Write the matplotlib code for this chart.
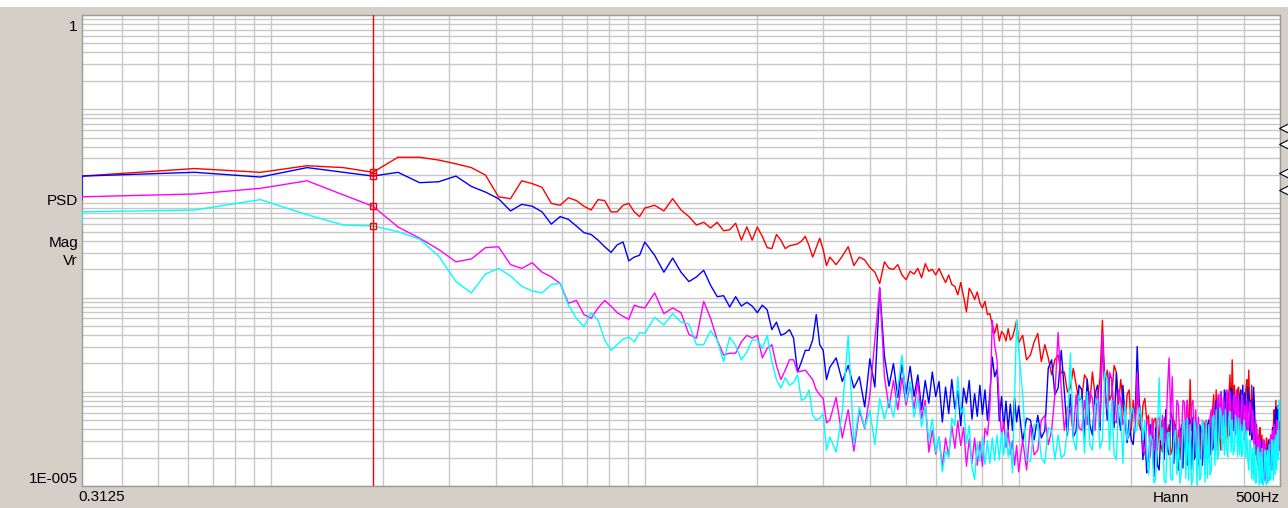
import numpy as np
import matplotlib
matplotlib.use("Agg")
import matplotlib.pyplot as plt
import matplotlib.transforms as mtransforms
from matplotlib.ticker import LogLocator, NullFormatter

plt.rcParams["font.family"] = ["Liberation Sans", "DejaVu Sans"]

# ── spectrum data ────────────────────────────────────────────────────────────
DF = 0.3125                       # frequency resolution, Hz
BINS = (list(range(1, 33)) + list(range(34, 101, 2))
        + list(range(104, 321, 4)) + list(range(328, 1601, 8)))
FREQ_HZ = DF * np.array(BINS)

# PSD levels in dB (10*log10), one value per entry of BINS
RED_DB = [
    -17.1, -16.3, -16.7, -16.0, -16.2, -16.7, -15.1, -15.1, -15.4, -15.8,
    -16.2, -17.0, -19.3, -19.5, -17.6, -17.9, -18.3, -20.0, -20.2, -19.4,
    -19.7, -20.3, -20.7, -19.6, -19.7, -20.9, -20.9, -20.2, -20.0, -20.9,
    -21.4, -20.5,
    -20.2, -20.8, -19.5, -20.7, -21.4, -22.3, -22.0, -22.6, -22.0, -22.9,
    -22.8, -22.1, -23.9, -22.5, -23.9, -22.5, -23.5, -24.7, -24.8, -23.3,
    -23.9, -24.8, -24.5, -24.4, -24.3, -24.0, -23.5, -24.5, -25.7, -24.7,
    -23.7, -24.9, -26.6, -25.7,
    -26.5, -25.6, -24.6, -26.6, -25.7, -26.0, -26.8, -27.3, -28.5, -26.2,
    -26.9, -27.0, -26.5, -27.6, -28.1, -27.2, -27.5, -26.9, -27.9, -26.4,
    -27.2, -27.0, -27.6, -26.9, -27.7, -28.4, -27.6, -28.6, -28.8, -29.7,
    -28.4, -29.9, -31.5, -29.0, -29.5, -30.2, -29.4, -30.6, -31.1, -30.4,
    -31.8, -31.7, -32.9, -33.8, -32.8, -34.6, -33.6, -33.9, -34.6, -33.3,
    -34.5, -34.2, -33.4, -32.4, -34.8,
    -34.0, -36.6, -36.1, -34.7, -33.8, -36.8, -35.0, -36.4, -38.2, -36.6,
    -36.1, -38.0, -37.9, -40.0, -39.6, -37.5, -39.3, -40.9, -40.7, -38.2,
    -38.7, -41.2, -37.9, -40.3, -40.9, -38.5, -32.4, -39.3, -37.7, -40.9,
    -40.3, -37.2, -37.9, -41.4, -38.7, -40.9, -43.5, -40.3, -39.8, -44.1,
    -40.9, -43.0, -40.0, -43.5, -44.1, -41.4, -40.7, -43.0, -42.5, -45.9,
    -45.1, -43.0, -42.8, -46.2, -43.5, -45.6, -46.4, -43.0, -42.5, -45.1,
    -43.5, -46.7, -46.0, -43.0, -43.8, -46.7, -44.1, -47.2, -43.5, -46.2,
    -45.6, -43.0, -40.9, -45.1, -38.7, -44.1, -43.0, -46.4, -47.0, -43.8,
    -43.5, -46.7, -44.1, -47.2, -46.2, -43.2, -43.8, -46.9, -43.0, -45.6,
    -45.1, -41.9, -40.3, -45.1, -39.8, -46.2, -41.9, -45.1, -46.2, -42.5,
    -41.9, -45.6, -41.4, -45.1, -44.1, -40.3, -38.2, -43.0, -36.6, -41.4,
    -39.3, -42.5, -43.0, -39.8, -39.5, -42.8, -40.0, -43.5, -40.3, -43.0,
    -42.5, -39.8, -38.7, -42.1, -37.7, -41.7, -43.0, -39.3, -41.9, -45.1,
    -43.0, -46.7, -43.5, -47.2, -47.8, -44.1, -43.8, -47.2, -44.6, -48.3,
    -45.1, -48.1, -48.5, -44.9, -45.6, -48.3, -45.1, -48.8, -44.6, -47.8,
    -47.2, -43.5, -41.9, -45.6, -40.9, -44.6, -45.1, -41.4, -42.5, -45.6,
]

BLUE_DB = [
    -17.1, -16.7, -17.2, -16.2, -16.7, -17.1, -16.7, -17.8, -17.7, -17.1,
    -18.2, -18.8, -19.5, -20.8, -20.1, -20.3, -20.9, -22.2, -21.4, -21.7,
    -22.4, -23.1, -23.3, -23.9, -24.6, -25.2, -24.4, -24.1, -26.1, -25.7,
    -25.5, -24.1,
    -25.5, -27.3, -25.8, -27.3, -28.3, -27.8, -27.1, -28.7, -29.9, -29.8,
    -31.0, -29.9, -30.9, -30.5, -30.9, -31.6, -30.8, -31.3, -33.4, -32.6,
    -34.0, -33.8, -33.4, -34.3, -37.9, -36.8, -35.6, -35.6, -34.5, -31.8,
    -35.0, -35.6, -38.7, -37.4,
    -36.4, -38.9, -37.2, -39.6, -38.4, -41.6, -36.5, -39.5, -29.0, -36.2,
    -39.4, -37.0, -40.6, -37.1, -40.2, -37.3, -40.5, -38.2, -41.9, -38.8,
    -41.2, -37.9, -40.5, -38.9, -43.2, -39.5, -42.3, -38.7, -41.8, -39.9,
    -43.6, -39.6, -41.2, -38.8, -42.9, -40.2, -42.6, -39.3, -42.4, -39.8,
    -43.0, -40.3, -36.3, -38.4, -37.6, -43.1, -40.5, -43.9, -41.0, -44.0,
    -41.3, -44.1, -40.6, -43.2, -41.5,
    -45.3, -42.8, -43.0, -45.1, -42.5, -44.9, -44.1, -37.5, -36.6, -40.3,
    -39.6, -35.6, -40.0, -44.6, -40.3, -44.8, -44.1, -39.3, -39.8, -44.8,
    -38.7, -43.5, -44.6, -40.3, -39.3, -44.1, -34.8, -39.1, -43.0, -38.2,
    -38.7, -43.8, -38.0, -42.5, -44.1, -39.3, -42.7, -45.4, -43.0, -45.1,
    -45.6, -42.5, -35.2, -40.9, -43.3, -47.2, -44.1, -48.6, -48.3, -43.5,
    -44.1, -49.0, -43.8, -47.8, -48.3, -44.3, -43.0, -47.2, -41.9, -46.2,
    -46.7, -42.1, -42.8, -47.6, -43.5, -47.8, -48.3, -44.1, -43.8, -48.1,
    -43.5, -47.5, -47.8, -42.8, -43.0, -48.3, -42.7, -47.2, -43.2, -48.1,
    -47.5, -43.5, -44.1, -47.8, -43.8, -47.2, -47.0, -43.5, -43.0, -46.7,
    -42.5, -46.2, -45.6, -41.9, -40.9, -45.1, -40.3, -44.6, -40.0, -44.1,
    -44.3, -39.8, -40.3, -43.8, -40.1, -44.6, -43.5, -39.6, -39.8, -44.1,
    -40.3, -44.4, -40.0, -43.8, -44.6, -40.6, -39.8, -44.1, -39.3, -43.5,
    -40.1, -44.3, -43.8, -39.5, -40.3, -44.6, -40.9, -45.1, -44.1, -39.5,
    -41.9, -45.6, -43.5, -47.2, -44.8, -48.3, -48.8, -45.1, -45.6, -49.4,
    -45.3, -49.2, -46.0, -49.7, -49.4, -45.6, -45.1, -49.2, -44.6, -48.3,
    -43.8, -47.8, -46.2, -42.5, -41.6, -45.1, -41.9, -45.6, -42.1, -45.1,
]

MAGENTA_DB = [
    -19.3, -19.0, -18.4, -17.6, -19.1, -20.3, -22.5, -23.7, -24.9, -26.2,
    -25.9, -24.7, -24.6, -26.5, -26.9, -26.3, -27.3, -27.8, -28.5, -30.6,
    -30.3, -31.8, -32.2, -31.1, -30.3, -30.9, -31.6, -32.0, -32.3, -30.8,
    -31.0, -31.1,
    -29.5, -31.7, -31.1, -31.6, -33.9, -34.3, -30.4, -32.2, -34.5, -36.1,
    -35.9, -35.9, -34.7, -34.0, -34.3, -34.0, -36.4, -35.4, -35.0, -37.2,
    -38.7, -37.7, -36.6, -36.6, -37.9, -37.8, -37.7, -38.2, -38.7, -39.8,
    -40.3, -40.7, -43.3, -43.0,
    -40.6, -44.9, -41.9, -46.3, -42.0, -43.9, -40.3, -34.5, -28.9, -38.4,
    -41.7, -38.8, -41.9, -38.5, -41.4, -39.2, -41.8, -38.9, -42.8, -40.9,
    -46.4, -44.1, -46.6, -44.8, -48.0, -44.9, -46.8, -43.6, -46.0, -43.1,
    -45.7, -43.8, -47.9, -45.0, -47.6, -44.9, -47.8, -45.3, -47.9, -43.9,
    -44.6, -41.8, -32.4, -35.0, -36.6, -41.4, -44.6, -43.2, -45.9, -44.1,
    -46.7, -45.2, -47.8, -45.7, -48.5,
    -45.1, -48.3, -43.5, -46.7, -46.2, -43.0, -42.5, -45.6, -44.1, -40.3,
    -33.7, -39.8, -44.1, -41.6, -41.9, -44.3, -40.3, -43.8, -44.1, -40.9,
    -43.5, -40.0, -40.7, -44.1, -39.8, -43.2, -33.8, -39.8, -41.9, -37.9,
    -38.7, -43.0, -43.3, -39.8, -40.9, -43.5, -42.7, -45.1, -44.6, -42.5,
    -41.9, -44.1, -38.0, -42.5, -42.7, -46.2, -46.7, -43.0, -43.5, -46.9,
    -42.8, -46.2, -45.9, -43.0, -42.7, -45.1, -42.5, -45.4, -44.6, -39.8,
    -36.4, -43.0, -38.4, -45.1, -45.4, -40.9, -41.4, -45.9, -45.1, -40.9,
    -41.1, -45.6, -40.9, -45.1, -45.9, -41.4, -40.9, -45.4, -41.9, -46.2,
    -42.7, -46.7, -47.2, -43.0, -43.5, -47.6, -43.0, -47.0, -46.7, -42.7,
    -41.9, -45.6, -41.4, -45.1, -44.9, -40.9, -40.3, -44.6, -40.0, -44.1,
    -40.7, -45.1, -44.3, -39.8, -40.3, -44.8, -40.0, -44.1, -45.4, -40.7,
    -40.3, -44.6, -39.8, -44.1, -40.9, -45.1, -44.8, -40.3, -40.9, -45.1,
    -41.4, -44.6, -40.9, -44.1, -43.8, -41.1, -41.4, -44.3, -41.9, -45.1,
    -46.2, -43.0, -44.1, -47.5, -44.6, -48.3, -45.1, -49.2, -49.7, -45.6,
    -45.1, -49.4, -45.6, -49.2, -46.2, -49.4, -48.8, -45.1, -44.6, -48.3,
    -44.1, -47.8, -43.5, -46.7, -46.2, -43.0, -43.5, -46.7, -44.1, -46.2,
]

CYAN_DB = [
    -20.9, -20.7, -19.6, -21.2, -22.3, -22.4, -23.0, -23.8, -25.6, -28.3,
    -29.5, -27.5, -26.9, -27.7, -28.8, -29.3, -29.5, -28.6, -28.5, -30.8,
    -32.2, -33.1, -31.6, -32.4, -34.5, -35.6, -35.0, -34.4, -34.2, -34.7,
    -33.7, -33.8,
    -32.1, -32.9, -31.7, -32.6, -32.8, -35.0, -35.0, -33.5, -34.5, -36.8,
    -34.2, -35.1, -36.6, -35.8, -34.5, -34.5, -35.4, -34.0, -36.8, -38.7,
    -39.6, -38.5, -39.3, -39.0, -38.2, -40.9, -40.7, -39.8, -42.5, -43.0,
    -42.8, -42.3, -46.2, -44.8,
    -46.4, -42.1, -34.0, -45.6, -41.6, -43.8, -42.0, -45.6, -40.7, -42.9,
    -40.8, -42.7, -39.6, -36.1, -41.0, -38.9, -42.7, -40.6, -43.7, -41.5,
    -45.1, -42.9, -46.4, -44.8, -48.5, -46.3, -47.0, -42.8, -43.6, -38.4,
    -42.2, -41.7, -45.5, -43.6, -48.0, -49.3, -45.4, -47.4, -44.8, -47.7,
    -45.2, -47.6, -44.9, -47.3, -44.6, -47.2, -44.3, -46.7, -44.0, -46.9,
    -45.4, -48.6, -40.9, -32.4, -35.6,
    -40.3, -47.2, -47.4, -43.5, -43.3, -47.0, -47.6, -43.8, -44.1, -47.2,
    -44.6, -47.0, -46.7, -44.1, -35.9, -45.1, -46.2, -40.3, -40.9, -46.5,
    -40.0, -45.6, -46.2, -41.4, -40.7, -46.0, -45.1, -37.9, -38.7, -46.2,
    -40.9, -46.7, -47.2, -41.4, -41.9, -47.6, -41.4, -45.1, -44.1, -41.6,
    -41.9, -44.3, -43.8, -41.7, -42.5, -45.1, -43.0, -46.2, -48.8, -44.6,
    -45.1, -49.7, -49.2, -44.9, -38.5, -45.1, -43.8, -49.4, -49.7, -44.4,
    -44.3, -49.2, -49.4, -45.1, -44.1, -48.8, -44.9, -49.7, -48.3, -43.5,
    -43.0, -49.2, -42.8, -49.4, -43.5, -49.9, -49.2, -43.0, -44.1, -49.9,
    -43.5, -49.4, -48.8, -43.0, -43.8, -49.6, -43.2, -49.2, -43.5, -48.8,
    -48.3, -42.8, -42.5, -47.8, -41.9, -47.2, -46.7, -41.7, -42.1, -46.2,
    -42.5, -46.7, -41.9, -46.2, -46.9, -42.8, -42.1, -46.4, -43.0, -46.7,
    -46.2, -42.5, -43.2, -46.9, -42.8, -46.7, -43.5, -46.9, -46.4, -43.0,
    -43.8, -47.0, -44.1, -47.2, -48.3, -45.1, -45.6, -49.2, -46.0, -49.4,
    -45.6, -49.7, -49.6, -46.2, -45.9, -49.9, -46.4, -49.7, -46.0, -49.9,
    -49.7, -46.2, -46.7, -49.9, -46.2, -49.6, -45.6, -49.4, -49.2, -45.1,
    -45.6, -49.4, -45.1, -48.8, -44.6, -48.3, -44.1, -47.2, -40.9, -43.0,
]

# DC bin of each trace (drawn at the left edge, like the analyser does)
DC_DB = [-17.3, -19.6, -19.6, -22.2]
TRACES = [RED_DB, BLUE_DB, MAGENTA_DB, CYAN_DB]
TRACE_COLORS = ["#FF0000", "#0000FF", "#FF00FF", "#00FFFF"]

CURSOR_HZ = 1.875
REF_MARKS_DB = [-12.0, -13.7, -16.8, -18.6]   # trace reference arrows, right edge

for t in TRACES:
    assert len(t) == len(BINS), len(t)

# ── style ─────────────────────────────────────────────────────────────────────
W, H = 1288, 508
FRAME = "#D4D0C8"
GRID_C = "#C8C8C8"
TEXT_C = "#000000"


def fx(px):
    return px / W


def fy(py):
    return 1 - py / H


fig = plt.figure(figsize=(W / 100, H / 100), dpi=100)
fig.patch.set_facecolor(FRAME)
fig.patches.append(plt.Rectangle((0, fy(7)), 1, 7 / H, transform=fig.transFigure,
                                 facecolor="white", edgecolor="none", zorder=0))

ax = fig.add_axes([fx(82), fy(486), fx(1280 - 82), (486 - 15) / H])
ax.set_facecolor("white")
ax.set_xscale("log")
ax.set_yscale("log")
ax.set_xlim(DF, 500)
ax.set_ylim(1e-5, 1)

ax.xaxis.set_minor_locator(LogLocator(base=10, subs=np.arange(2, 10), numticks=50))
ax.yaxis.set_minor_locator(LogLocator(base=10, subs=np.arange(2, 10), numticks=50))
ax.xaxis.set_minor_formatter(NullFormatter())
ax.yaxis.set_minor_formatter(NullFormatter())
ax.grid(which="both", color=GRID_C, linewidth=1.0)
ax.set_axisbelow(True)
ax.tick_params(which="both", length=0, labelleft=False, labelbottom=False)
for spine in ax.spines.values():
    spine.set_edgecolor("#9A9A9A")
    spine.set_linewidth(1.0)

# traces
freq_plot = np.r_[FREQ_HZ[0], FREQ_HZ]
for dc, vals, col in zip(DC_DB, TRACES, TRACE_COLORS):
    psd = 10 ** (np.r_[dc, vals] / 10.0)
    ax.plot(freq_plot, psd, color=col, linewidth=1.0, zorder=3)

# cursor with readout squares
ax.axvline(CURSOR_HZ, color="#FF0000", linewidth=1.0, zorder=4)
i_cur = BINS.index(int(round(CURSOR_HZ / DF)))
for vals in TRACES:
    ax.plot(CURSOR_HZ, 10 ** (vals[i_cur] / 10.0), marker="s", markersize=5,
            markerfacecolor="none", markeredgecolor="#FF0000",
            markeredgewidth=1.0, zorder=5)

# reference arrows on the right edge
trans = mtransforms.blended_transform_factory(ax.transAxes, ax.transData)
for lvl in REF_MARKS_DB:
    ax.plot(1.0 + 4 / 1198, 10 ** (lvl / 10.0), marker="<", markersize=7,
            markerfacecolor="white", markeredgecolor="black",
            markeredgewidth=0.8, transform=trans, clip_on=False, zorder=6)

# axis annotations
FS = 11
fig.text(fx(77), fy(27), "1", ha="right", va="center", fontsize=FS, color=TEXT_C)
fig.text(fx(78), fy(201), "PSD", ha="right", va="center", fontsize=FS, color=TEXT_C)
fig.text(fx(78), fy(243), "Mag", ha="right", va="center", fontsize=FS, color=TEXT_C)
fig.text(fx(78), fy(261), "Vr", ha="right", va="center", fontsize=FS, color=TEXT_C)
fig.text(fx(78), fy(479), "1E-005", ha="right", va="center", fontsize=FS, color=TEXT_C)
fig.text(fx(78), fy(497), "0.3125", ha="left", va="center", fontsize=FS, color=TEXT_C)
fig.text(fx(1153), fy(498), "Hann", ha="left", va="center", fontsize=FS, color=TEXT_C)
fig.text(fx(1279), fy(498), "500Hz", ha="right", va="center", fontsize=FS, color=TEXT_C)

fig.savefig("out.png", dpi=100, facecolor=FRAME)
